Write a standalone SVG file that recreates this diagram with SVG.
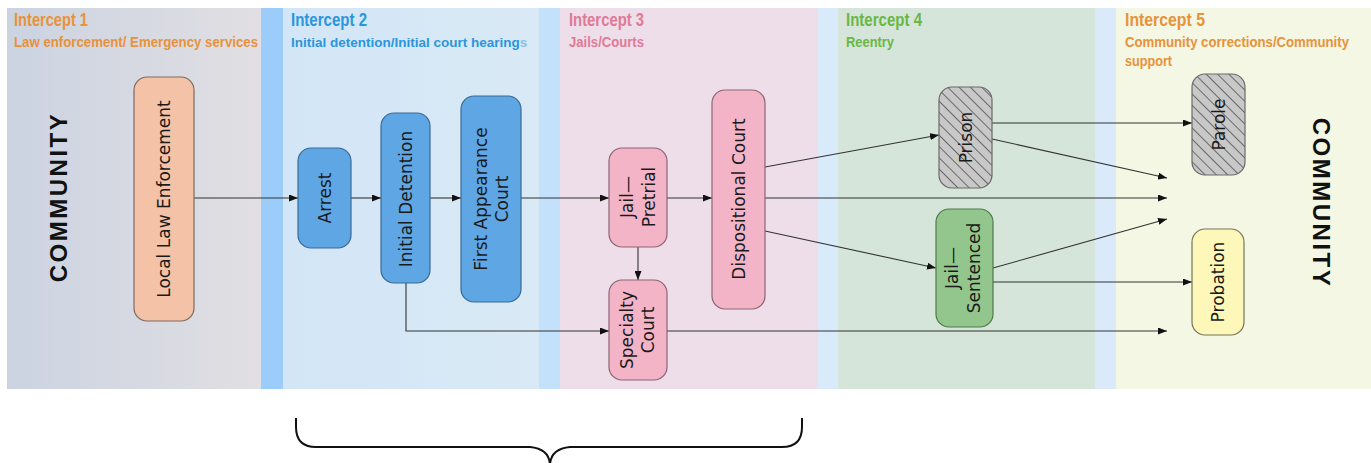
<svg xmlns="http://www.w3.org/2000/svg" width="1371" height="463" viewBox="0 0 1371 463">
<defs>
<style>
.hd{font-family:"Liberation Sans",Arial,sans-serif;font-weight:bold;font-size:18px}
.sb{font-family:"Liberation Sans",Arial,sans-serif;font-weight:bold;font-size:14.5px}
.nt{font-family:"DejaVu Sans","Liberation Sans",sans-serif;font-size:17px;fill:#1a1a1a;text-anchor:middle;dominant-baseline:central}
.cm{font-family:"Liberation Sans",Arial,sans-serif;font-weight:bold;font-size:24px;fill:#111;text-anchor:middle;dominant-baseline:central;letter-spacing:2.5px}
.node{stroke-width:1.2}
.c{fill:none;stroke:#333;stroke-width:1.1;marker-end:url(#ah)}
.blue{fill:#5fa6e4;stroke:#3a6a95}
.pink{fill:#f4b4c8;stroke:#8c6474}
.gray{fill:url(#hatch);stroke:#6a6a6a}
</style>
<linearGradient id="g1" x1="0" y1="0" x2="1" y2="0"><stop offset="0" stop-color="#cbd3e1"/><stop offset="1" stop-color="#e1dfe3"/></linearGradient>
<linearGradient id="g2" x1="0" y1="0" x2="1" y2="0"><stop offset="0" stop-color="#d3e6f7"/><stop offset="1" stop-color="#d9e9f5"/></linearGradient>
<pattern id="hatch" patternUnits="userSpaceOnUse" width="8" height="8" patternTransform="rotate(-45)">
<rect width="8" height="8" fill="#c8c8c8"/>
<line x1="0" y1="0" x2="0" y2="8" stroke="#3e3e3e" stroke-width="1.4"/>
</pattern>
<marker id="ah" markerUnits="userSpaceOnUse" markerWidth="9" markerHeight="7" refX="9" refY="3.5" orient="auto">
<path d="M0,0 L9,3.5 L0,7 z" fill="#111"/>
</marker>
</defs>
<rect width="1371" height="463" fill="#ffffff"/>
<g id="bands">
<rect x="7" y="8" width="254" height="381" fill="url(#g1)"/>
<rect x="261" y="8" width="22" height="381" fill="#9ccdfa"/>
<rect x="283" y="8" width="256" height="381" fill="url(#g2)"/>
<rect x="539" y="8" width="21" height="381" fill="#c3e1fb"/>
<rect x="560" y="8" width="258" height="381" fill="#eddee9"/>
<rect x="818" y="8" width="20" height="381" fill="#d9eafa"/>
<rect x="838" y="8" width="257" height="381" fill="#d5e5d9"/>
<rect x="1095" y="8" width="21" height="381" fill="#dbeafa"/>
<rect x="1116" y="8" width="255" height="381" fill="#f4f7e3"/>
</g>
<g id="headers">
<text class="hd" x="14" y="26" fill="#e8923a" textLength="74" lengthAdjust="spacingAndGlyphs">Intercept 1</text>
<text class="sb" x="14" y="47" fill="#e8923a" textLength="244" lengthAdjust="spacingAndGlyphs">Law enforcement/ Emergency services</text>
<text class="hd" x="291" y="26" fill="#2b96dc" textLength="76" lengthAdjust="spacingAndGlyphs">Intercept 2</text>
<text class="sb" x="291" y="47" fill="#2b96dc" style="font-size:13.5px">Initial detention/Initial court hearing<tspan fill="#86c2ea">s</tspan></text>
<text class="hd" x="569" y="26" fill="#e07a96" textLength="75" lengthAdjust="spacingAndGlyphs">Intercept 3</text>
<text class="sb" x="569" y="47" fill="#e07a96" textLength="75" lengthAdjust="spacingAndGlyphs">Jails/Courts</text>
<text class="hd" x="846" y="26" fill="#6ab844" textLength="76" lengthAdjust="spacingAndGlyphs">Intercept 4</text>
<text class="sb" x="846" y="47" fill="#6ab844" textLength="48" lengthAdjust="spacingAndGlyphs">Reentry</text>
<text class="hd" x="1125" y="26" fill="#e8923a" textLength="80" lengthAdjust="spacingAndGlyphs">Intercept 5</text>
<text class="sb" x="1125" y="47" fill="#e8923a" textLength="224" lengthAdjust="spacingAndGlyphs">Community corrections/Community</text>
<text class="sb" x="1125" y="66" fill="#e8923a" textLength="47" lengthAdjust="spacingAndGlyphs">support</text>
</g>
<g id="community-left"><text class="cm" transform="translate(58,197) rotate(-90)">COMMUNITY</text></g>
<g id="community-right"><text class="cm" transform="translate(1321,203) rotate(90)">COMMUNITY</text></g>
<g id="connectors">
<path class="c" d="M194,198 H298"/>
<path class="c" d="M351,198 H381"/>
<path class="c" d="M430,198 H461"/>
<path class="c" d="M521,198 H609"/>
<path class="c" d="M667,198 H712"/>
<path class="c" d="M765,198 H1167"/>
<path class="c" d="M638,247 V280"/>
<path class="c" d="M406,283 V331 H609"/>
<path class="c" d="M667,331 H1167"/>
<path class="c" d="M765,167 L939,135"/>
<path class="c" d="M765,231 L936,268"/>
<path class="c" d="M992,123 H1192"/>
<path class="c" d="M992,139 L1167,178"/>
<path class="c" d="M993,268 L1167,219"/>
<path class="c" d="M993,282 H1192"/>
</g>
<g id="local-law-enforcement">
<rect class="node" x="134" y="77" width="60" height="244" rx="13" fill="#f4c2a7" stroke="#7d6a60"/>
<text class="nt" transform="translate(164,199) rotate(-90)">Local Law Enforcement</text>
</g>
<g id="arrest">
<rect class="node blue" x="298" y="148" width="53" height="100" rx="13"/>
<text class="nt" transform="translate(324.5,198) rotate(-90)">Arrest</text>
</g>
<g id="initial-detention">
<rect class="node blue" x="381" y="113" width="49" height="170" rx="13"/>
<text class="nt" transform="translate(405.5,199) rotate(-90)">Initial Detention</text>
</g>
<g id="first-appearance-court">
<rect class="node blue" x="461" y="96" width="60" height="206" rx="13"/>
<text class="nt" transform="translate(491,199) rotate(-90)"><tspan x="0" y="-10">First Appearance</tspan><tspan x="0" y="11">Court</tspan></text>
</g>
<g id="jail-pretrial">
<rect class="node pink" x="609" y="148" width="58" height="99" rx="13"/>
<text class="nt" transform="translate(638,197) rotate(-90)"><tspan x="0" y="-11">Jail—</tspan><tspan x="0" y="11">Pretrial</tspan></text>
</g>
<g id="specialty-court">
<rect class="node pink" x="609" y="280" width="58" height="100" rx="13"/>
<text class="nt" transform="translate(638,330) rotate(-90)"><tspan x="0" y="-11">Specialty</tspan><tspan x="0" y="10">Court</tspan></text>
</g>
<g id="dispositional-court">
<rect class="node pink" x="712" y="90" width="53" height="219" rx="13"/>
<text class="nt" transform="translate(738.5,199) rotate(-90)">Dispositional Court</text>
</g>
<g id="prison">
<rect class="node gray" x="939" y="87" width="53" height="101" rx="13"/>
<text class="nt" transform="translate(965.5,137.5) rotate(-90)">Prison</text>
</g>
<g id="jail-sentenced">
<rect class="node" x="936" y="209" width="57" height="118" rx="13" fill="#93c68c" stroke="#4f7a4b"/>
<text class="nt" transform="translate(964.5,268) rotate(-90)"><tspan x="0" y="-13">Jail—</tspan><tspan x="0" y="9">Sentenced</tspan></text>
</g>
<g id="parole">
<rect class="node gray" x="1192" y="74" width="53" height="101" rx="13"/>
<text class="nt" transform="translate(1218.5,124.5) rotate(-90)">Parole</text>
</g>
<g id="probation">
<rect class="node" x="1192" y="229" width="52" height="106" rx="13" fill="#fdf8b9" stroke="#77745a"/>
<text class="nt" transform="translate(1218,282) rotate(-90)">Probation</text>
</g>
<g id="brace">
<path d="M296,418 V427 Q296,447 316,447 H530 Q550,449 550,466 M802,418 V427 Q802,447 782,447 H570 Q550,449 550,466" fill="none" stroke="#111" stroke-width="2"/>
</g>
</svg>
